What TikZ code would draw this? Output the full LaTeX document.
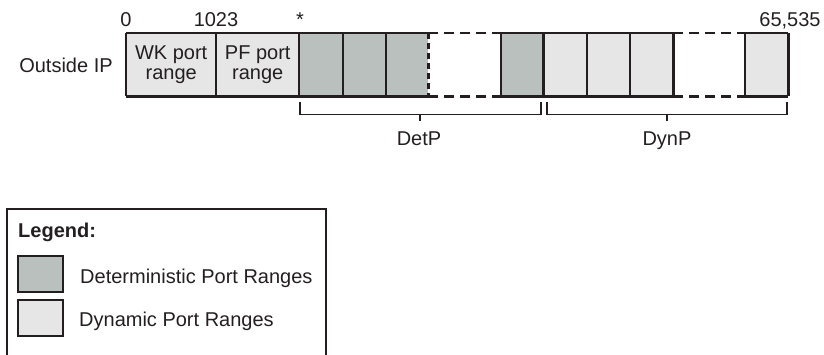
\documentclass[tikz,border=0pt]{standalone}
\usepackage{fontspec}
\setmainfont{Liberation Sans}
\definecolor{detfill}{HTML}{BAC0BE}
\definecolor{dynfill}{HTML}{E6E6E6}
\definecolor{ink}{HTML}{231F20}
\begin{document}
\begin{tikzpicture}[x=1pt,y=-1pt,
  txt/.style={font=\fontsize{20}{19.5}\selectfont, text=ink, inner sep=0pt},
  cell/.style={draw=none, inner sep=0pt, minimum height=63pt, anchor=north west},
  detcell/.style={cell, fill=detfill},
  dyncell/.style={cell, fill=dynfill},
  edge/.style={draw=ink, line width=2.2pt},
  dashedge/.style={draw=ink, line width=2.2pt, dash pattern=on 10pt off 6pt},
  bracket/.style={draw=ink, line width=1.1pt},
  swatch/.style={draw=ink, line width=2.4pt, minimum width=45pt, minimum height=36pt, inner sep=0pt, anchor=north west}]
\useasboundingbox (0,0) rectangle (824,354);
% cells
\node[dyncell, minimum width=90pt] (wk) at (126,33) {};
\node[dyncell, minimum width=83pt] (pf) at (216,33) {};
\node[detcell, minimum width=44pt] (d1) at (299,33) {};
\node[detcell, minimum width=43pt] (d2) at (343,33) {};
\node[detcell, minimum width=42pt] (d3) at (386,33) {};
\node[cell, minimum width=73pt] (g1) at (428,33) {};
\node[detcell, minimum width=42pt] (d4) at (501,33) {};
\node[dyncell, minimum width=44pt] (y1) at (543,33) {};
\node[dyncell, minimum width=43pt] (y2) at (587,33) {};
\node[dyncell, minimum width=43pt] (y3) at (630,33) {};
\node[cell, minimum width=72pt] (g2) at (673,33) {};
\node[dyncell, minimum width=43pt] (y4) at (745,33) {};
% texts in cells
\node[txt, align=center] (wkt) at (wk.center) {WK port\\range};
\node[txt, align=center] (pft) at (pf.center) {PF port\\range};
% outlines
\draw[edge] (wk.north west) -- (d3.north east);
\draw[edge] (wk.south west) -- (d3.south east);
\draw[dashedge] (g1.north west) -- (g1.north east);
\draw[dashedge] (g1.south west) -- (g1.south east);
\draw[edge] (d4.north west) -- (y3.north east);
\draw[edge] (d4.south west) -- (y3.south east);
\draw[dashedge] (g2.north west) -- (g2.north east);
\draw[dashedge] (g2.south west) -- (g2.south east);
\draw[edge] (y4.north west) -- (y4.north east);
\draw[edge] (y4.south west) -- (y4.south east);
\foreach \c in {wk,pf,d1,d2,d3,d4,y1,y2,y3,y4}{
  \draw[edge] (\c.north west) -- (\c.south west);
}
\draw[edge] (d4.north east) -- (d4.south east);
\draw[edge] (y3.north east) -- (y3.south east);
\draw[edge] (y4.north east) -- (y4.south east);
\draw[dashedge, dash pattern=on 6pt off 4pt] (d3.north east) -- (d3.south east);
% labels above
\node[txt, anchor=base] (l0) at (126,26) {0};
\node[txt, anchor=base] (l1023) at (216,26) {1023};
\node[txt, anchor=base] (lstar) at (300,26) {*};
\node[txt, anchor=base] (lmax) at (790,26) {65,535};
\node[txt, anchor=base] (oip) at (66,72) {Outside IP};
% brackets
\coordinate (b1a) at (300,102);
\coordinate (b1b) at (541,102);
\coordinate (b2a) at (547,102);
\coordinate (b2b) at (787,102);
\draw[bracket] (b1a) -- ++(0,12.5) -| (b1b);
\draw[bracket] (b2a) -- ++(0,12.5) -| (b2b);
\draw[bracket] (420,114.5) -- (420,121);
\draw[bracket] (667,114.5) -- (667,121);
\node[txt, anchor=base] (detp) at (419,145) {DetP};
\node[txt, anchor=base] (dynp) at (667,145) {DynP};
% legend
\draw[draw=ink, line width=1.6pt] (7,370) -- (7,209) -- (326,209) -- (326,370);
\node[txt, anchor=base west, font=\fontsize{20}{18}\selectfont\bfseries] (leg) at (18,237) {Legend:};
\node[swatch, fill=detfill] (s1) at (17,255) {};
\node[swatch, fill=dynfill] (s2) at (17,299) {};
\node[txt, anchor=base west] (s1t) at (80,283) {Deterministic Port Ranges};
\node[txt, anchor=base west] (s2t) at (79,326) {Dynamic Port Ranges};
\end{tikzpicture}
\end{document}
